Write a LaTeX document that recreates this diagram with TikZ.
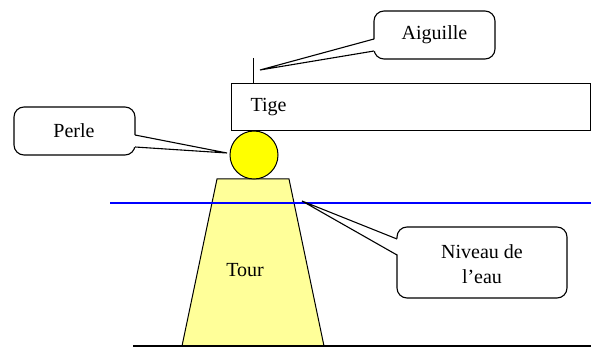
\documentclass[tikz,border=0pt]{standalone}
\usepackage{fontspec}
\setmainfont{Liberation Serif}
\definecolor{pearl}{HTML}{FFFF00}
\definecolor{towerfill}{HTML}{FFFF99}
\definecolor{water}{HTML}{0000FF}
\begin{document}
\begin{tikzpicture}[x=1pt,y=-1pt,line width=1pt,
  lbl/.style={font=\fontsize{20}{25}\selectfont, inner sep=0pt, align=center},
  bubble/.style={draw=black, fill=white, rounded corners=10pt, line width=1.1pt, inner sep=0pt},
  tail/.style={draw=black, line width=1.1pt, line join=miter}]
\useasboundingbox (0,0) rectangle (592,347);

% ground
\coordinate (g1) at (133,346);
\coordinate (g2) at (591,346);
% tower
\coordinate (t1) at (217,179);
\coordinate (t2) at (289,179);
\coordinate (t3) at (324,346);
\coordinate (t4) at (182,346);
\draw[fill=towerfill, line join=miter] (t4) -- (t1) -- (t2) -- (t3);
\draw[line width=1.2pt] (g1) -- (g2);
\node[lbl] (tour) at (245,270) {Tour};

% pearl
\node[circle, draw, fill=pearl, minimum size=48pt, inner sep=0pt] (perleball) at (254,155) {};

% rod
\node[draw, minimum width=359pt, minimum height=47pt, anchor=north west, inner sep=0pt] (tigebox) at (231,83) {};
\node[lbl, anchor=west] (tige) at (250,107) {Tige};
% needle
\coordinate (n1) at (253,58);
\coordinate (n2) at (253,83);
\draw (n1) -- (n2);

% water line
\coordinate (w1) at (110,203);
\coordinate (w2) at (591,203);
\draw[water, line width=1.3pt] (w1) -- (w2);

% callout Aiguille
\node[bubble, minimum width=121pt, minimum height=48pt] (aigbox) at (434.5,35) {};
\coordinate (aigtip) at (260,70);
\coordinate (aiga) at (374,39);
\coordinate (aigb) at (374,51);
\fill[white] (aigtip) -- ([xshift=1.5pt]aiga) -- ([xshift=1.5pt]aigb) -- cycle;
\draw[tail] (aiga) -- (aigtip) -- (aigb);
\node[lbl] (aig) at (434.5,35) {Aiguille};

% callout Perle
\node[bubble, minimum width=121pt, minimum height=48pt] (perlebox) at (74.5,131) {};
\coordinate (perletip) at (227,153);
\coordinate (perlea) at (135,135);
\coordinate (perleb) at (135,147);
\fill[white] (perletip) -- ([xshift=-1.5pt]perlea) -- ([xshift=-1.5pt]perleb) -- cycle;
\draw[tail] (perlea) -- (perletip) -- (perleb);
\node[lbl] (perle) at (74,131) {Perle};

% callout Niveau de l'eau
\node[bubble, minimum width=170pt, minimum height=71pt] (nivbox) at (482,262.5) {};
\coordinate (nivtip) at (302,201);
\coordinate (niva) at (397,239);
\coordinate (nivb) at (397,255);
\fill[white] (nivtip) -- ([xshift=1.5pt]niva) -- ([xshift=1.5pt]nivb) -- cycle;
\draw[tail] (niva) -- (nivtip) -- (nivb);
\node[lbl] (niv) at (482,264) {Niveau de\\l’eau};
\end{tikzpicture}
\end{document}
